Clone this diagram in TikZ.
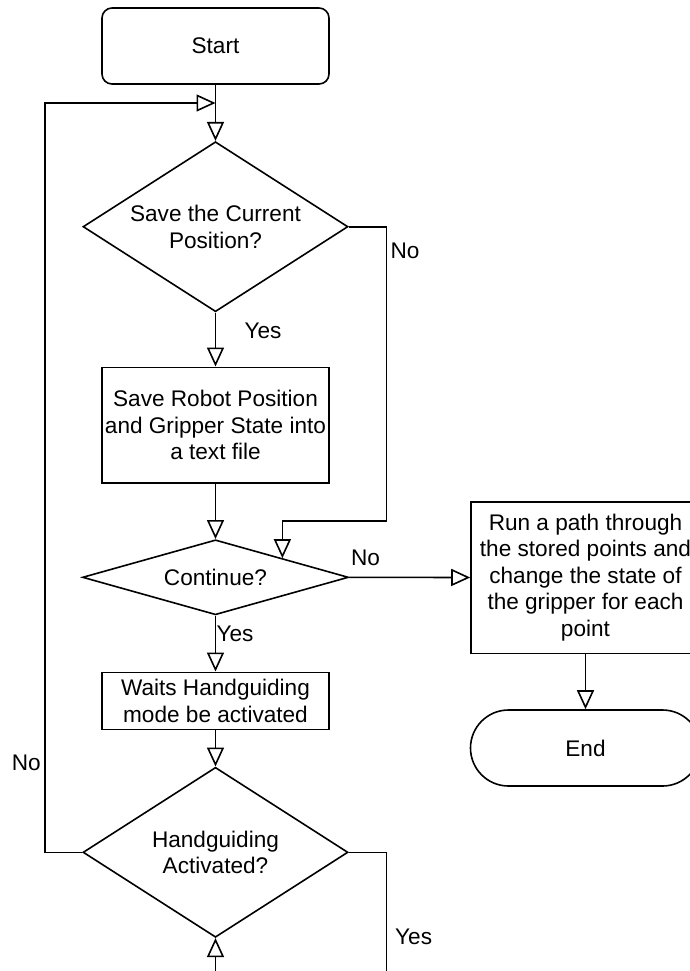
\documentclass[tikz,border=0pt]{standalone}
\usepackage{fontspec}
\setmainfont{Liberation Sans}
\usetikzlibrary{shapes.geometric, arrows.meta}
\tikzset{
    startstop/.style={draw, rounded corners=5pt, minimum width=113.5pt, minimum height=38pt, inner sep=0pt},
    process/.style={draw, align=center, minimum width=113.5pt, inner sep=0pt},
    decision/.style={draw, diamond, align=center, inner sep=0pt, aspect=1.56, minimum width=132.5pt, minimum height=85pt},
    flow/.style={-{Triangle[open, length=9.5pt, width=8.5pt]}},
    lbl/.style={inner sep=0pt}
}

\begin{document}
\begin{tikzpicture}[x=0.5pt, y=-0.5pt, line width=0.8pt, font=\fontsize{11.3}{13.3}\selectfont]
        \useasboundingbox (0,0) rectangle (690,971);
        \clip (0,0) rectangle (690,971);
        \node[startstop] (start) at (215.5,46) {Start};
        \node[decision] (dsave) at (215.5,226.7) {Save the Current\\Position?};
        \node[process, minimum height=57.7pt] (save) at (215.5,425) {Save Robot Position\\and Gripper State into\\a text file};
        \node[decision, aspect=3.55, minimum height=37.5pt, minimum width=133pt] (dcont) at (215.5,577.3) {Continue?};
        \node[process, minimum height=28.5pt] (wait) at (215.5,700.8) {Waits Handguiding\\mode be activated};
        \node[decision] (dhand) at (215.5,852.3) {Handguiding\\Activated?};
        \node[process, minimum width=114.5pt, minimum height=75.8pt] (run) at (585.5,577.5) {Run a path through\\the stored points and\\change the state of\\the gripper for each\\point};
        \node[startstop, rounded corners=19pt, minimum width=115pt] (stop) at (585.5,748) {End};
        \coordinate (loop) at (215.5,103);
        \coordinate (noleft) at (45,103);
        \coordinate (noright) at (386.5,520.7);
        \coordinate (yesout) at (386.5,971);
        \coordinate (yesin) at (215.5,971);
        \draw[flow] (start) -- (dsave);
        \draw[flow] (dhand.west) -| (noleft) -- (loop);
        \draw[flow] (dsave) -- (save);
        \draw[flow] (dsave.east) -| (noright) -| (dcont.north east);
        \draw[flow] (save) -- (dcont);
        \draw[flow] (dcont) -- (wait);
        \draw[flow] (dcont.east) -- (run.west);
        \draw[flow] (wait) -- (dhand);
        \draw[flow] (run) -- (stop);
        \draw (dhand.east) -| (yesout);
        \draw[flow] (yesin) -- (dhand.south);
        \node[lbl] (no1) at (405,251) {No};
        \node[lbl] (yes1) at (263,331) {Yes};
        \node[lbl] (no2) at (365.5,558) {No};
        \node[lbl] (yes2) at (235,634) {Yes};
        \node[lbl] (no3) at (26.3,763) {No};
        \node[lbl] (yes3) at (413.6,937) {Yes};
    \end{tikzpicture}
\end{document}
